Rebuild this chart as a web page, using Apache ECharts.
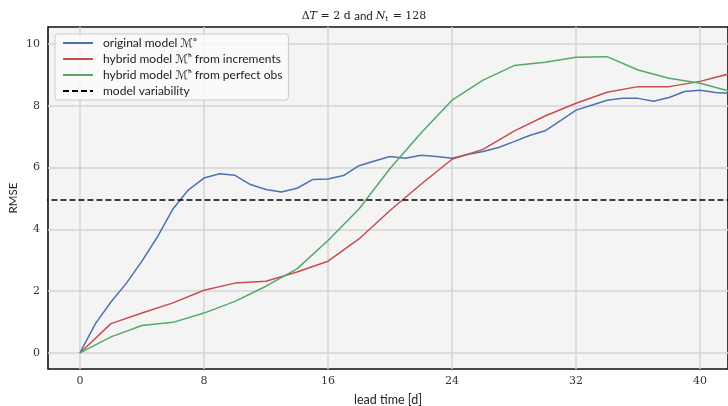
<!DOCTYPE html>
<html>
<head>
<meta charset="utf-8">
<script src="https://cdn.jsdelivr.net/npm/echarts@6/dist/echarts.min.js"></script>
<style>
  html, body { margin: 0; padding: 0; background: #fff; }
  #chart { width: 728px; height: 406px; }
</style>
</head>
<body>
<div id="chart"></div>
<script>
// lead times [d]
var daysDaily = [];
for (var d = 0; d <= 42; d++) daysDaily.push(d);
var daysEven = [];
for (var e = 0; e <= 42; e += 2) daysEven.push(e);

// RMSE values
var originalModel = [0, 0.95, 1.65, 2.26, 2.97, 3.76, 4.66, 5.28, 5.66, 5.80, 5.75, 5.45, 5.29, 5.21, 5.33, 5.61,
    5.63, 5.74, 6.06, 6.21, 6.36, 6.30, 6.40, 6.36, 6.30, 6.42, 6.52, 6.65, 6.84, 7.04, 7.19, 7.52, 7.86, 8.02,
    8.18, 8.24, 8.24, 8.15, 8.27, 8.46, 8.50, 8.43, 8.40];
var hybridIncrements = [0, 0.95, 1.29, 1.62, 2.03, 2.26, 2.32, 2.62, 2.97, 3.69, 4.61, 5.46, 6.27, 6.59, 7.18,
    7.67, 8.08, 8.44, 8.62, 8.62, 8.79, 9.05];
var hybridPerfectObs = [0, 0.52, 0.89, 0.99, 1.29, 1.67, 2.16, 2.72, 3.64, 4.66, 5.97, 7.12, 8.18, 8.83, 9.30,
    9.41, 9.57, 9.59, 9.16, 8.89, 8.73, 8.46];
var modelVariability = 4.95;

var xTicks = [0, 8, 16, 24, 32, 40];
var yTicks = [0, 2, 4, 6, 8, 10];

var seriesNames = [
    'original model ℳᵒ',
    'hybrid model ℳʰ from increments',
    'hybrid model ℳʰ from perfect obs',
    'model variability'
];

function pairs(xs, ys) {
    var out = [];
    for (var i = 0; i < xs.length; i++) out.push([xs[i], ys[i]]);
    return out;
}

var serifFont = '"DejaVu Serif", "Liberation Serif", serif';
var sansFont = 'Lato, "DejaVu Sans", sans-serif';

var option = {
    animation: false,
    backgroundColor: '#fff',
    title: {
        left: 'center',
        top: 5,
        text: '{m|Δ}{i|T}{m| = 2 d }{s|and }{i|N}{sub|t}{m| = 128}',
        textStyle: {
            fontWeight: 'normal',
            rich: {
                m: {fontFamily: serifFont, fontSize: 11, fontWeight: 'normal', color: '#222'},
                i: {fontFamily: serifFont, fontSize: 11, fontWeight: 'normal', fontStyle: 'italic', color: '#222'},
                s: {fontFamily: sansFont, fontSize: 11.5, fontWeight: 'normal', color: '#222'},
                sub: {fontFamily: serifFont, fontSize: 7, fontWeight: 'normal', color: '#222', padding: [6, 1, 0, 0]}
            }
        }
    },
    legend: {
        orient: 'vertical',
        left: 55,
        top: 34,
        itemWidth: 30,
        itemHeight: 14,
        itemGap: 4,
        padding: [3, 6, 3, 7],
        itemStyle: {opacity: 0},
        backgroundColor: 'rgba(250,250,250,0.85)',
        borderColor: '#cccccc',
        borderWidth: 1,
        borderRadius: 3,
        textStyle: {fontFamily: sansFont, fontSize: 12, color: '#222', padding: [0, 0, 0, 5]},
        data: seriesNames
    },
    grid: {
        left: 48,
        right: 0,
        top: 27,
        bottom: 37,
        outerBoundsMode: 'none',
        show: true,
        backgroundColor: '#f4f4f4',
        borderColor: '#111',
        borderWidth: 1.6
    },
    xAxis: {
        type: 'value',
        min: -2.06,
        max: 41.8,
        name: 'lead time [d]',
        nameLocation: 'middle',
        nameGap: 24,
        nameMoveOverlap: false,
        nameTextStyle: {fontFamily: sansFont, fontSize: 12.5, color: '#222'},
        axisLine: {show: false},
        axisTick: {show: false, customValues: xTicks},
        axisLabel: {customValues: xTicks, margin: 7, fontFamily: serifFont, fontSize: 11, color: '#333'},
        splitLine: {show: true, lineStyle: {color: '#d4d4d4', width: 1.5}}
    },
    yAxis: {
        type: 'value',
        min: -0.52,
        max: 10.55,
        name: 'RMSE',
        nameLocation: 'middle',
        nameGap: 29,
        nameMoveOverlap: false,
        nameTextStyle: {fontFamily: sansFont, fontSize: 11.5, color: '#222'},
        axisLine: {show: false},
        axisTick: {show: false, customValues: yTicks},
        axisLabel: {customValues: yTicks, margin: 8, fontFamily: serifFont, fontSize: 11, color: '#333'},
        splitLine: {show: true, lineStyle: {color: '#d4d4d4', width: 1.5}}
    },
    series: [
        {
            name: seriesNames[0],
            type: 'line',
            symbol: 'none',
            color: '#4c72b0',
            lineStyle: {width: 1.5},
            data: pairs(daysDaily, originalModel)
        },
        {
            name: seriesNames[1],
            type: 'line',
            symbol: 'none',
            color: '#c44e52',
            lineStyle: {width: 1.5},
            data: pairs(daysEven, hybridIncrements)
        },
        {
            name: seriesNames[2],
            type: 'line',
            symbol: 'none',
            color: '#55a868',
            lineStyle: {width: 1.5},
            data: pairs(daysEven, hybridPerfectObs)
        },
        {
            name: seriesNames[3],
            type: 'line',
            symbol: 'none',
            color: '#000',
            lineStyle: {width: 1.6, type: [6, 3]},
            data: [[-3, modelVariability], [45, modelVariability]]
        }
    ]
};

var chart = echarts.init(document.getElementById('chart'));
chart.setOption(option);
</script>
</body>
</html>
